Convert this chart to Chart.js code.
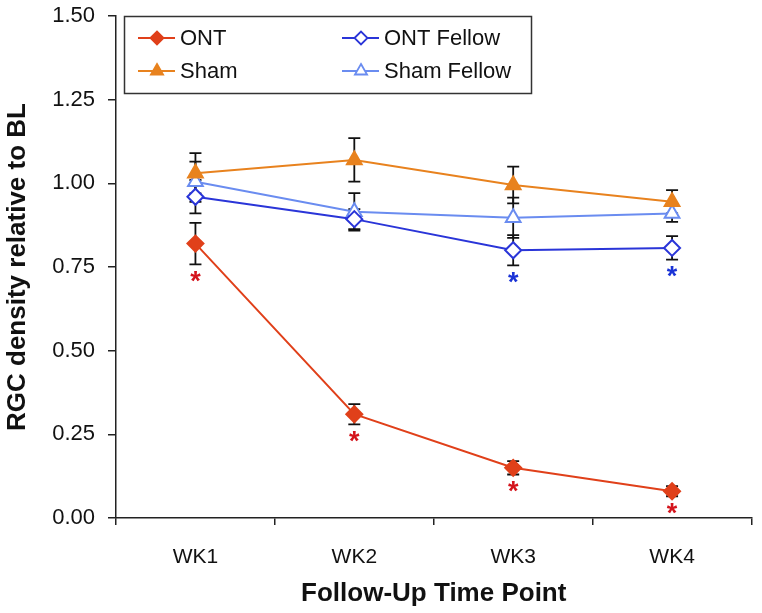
<!DOCTYPE html>
<html>
<head>
<meta charset="utf-8">
<script src="https://cdn.jsdelivr.net/npm/chart.js@4.4.0/dist/chart.umd.min.js"></script>
<style>
  html, body { margin: 0; padding: 0; background: #fff; }
  #wrap { width: 762px; height: 613px; position: relative; }
</style>
</head>
<body>
<div id="wrap"><canvas id="chart"></canvas></div>
<script>
// data
const weeks = ['WK1', 'WK2', 'WK3', 'WK4'];
const yTicks = [0, 0.25, 0.5, 0.75, 1.0, 1.25, 1.5];

const ont = [0.82, 0.31, 0.15, 0.08];
const ontErr = [0.062, 0.03, 0.02, 0.015];
const ontSig = [true, true, true, true];

const ontFellow = [0.96, 0.893, 0.80, 0.807];
const ontFellowErr = [0.05, 0.03, 0.045, 0.035];
const ontFellowSig = [false, false, true, true];

const sham = [1.03, 1.07, 0.995, 0.945];
const shamErr = [0.06, 0.065, 0.055, 0.035];

const shamFellow = [1.005, 0.915, 0.897, 0.91];
const shamFellowErr = [0.06, 0.056, 0.06, 0.025];

const FONT = '"Liberation Sans", Arial, sans-serif';

const series = [
  { label: 'ONT', data: ont, err: ontErr, sig: ontSig, sigColor: '#d4141c',
    color: '#e0401a', fill: '#e0401a', pointStyle: 'rectRot', radius: 8 },
  { label: 'Sham', data: sham, err: shamErr, sig: null,
    color: '#e8821e', fill: '#e8821e', pointStyle: 'triangle', radius: 8.5 },
  { label: 'ONT Fellow', data: ontFellow, err: ontFellowErr, sig: ontFellowSig, sigColor: '#1a33d6',
    color: '#2a35d8', fill: '#ffffff', pointStyle: 'rectRot', radius: 8 },
  { label: 'Sham Fellow', data: shamFellow, err: shamFellowErr, sig: null,
    color: '#6a8cf0', fill: '#ffffff', pointStyle: 'triangle', radius: 8.5 }
];

const errorBars = {
  id: 'errorBars',
  beforeDatasetsDraw(chart) {
    const ctx = chart.ctx;
    const x = chart.scales.x, y = chart.scales.y;
    ctx.save();
    ctx.strokeStyle = '#111';
    ctx.lineWidth = 1.8;
    series.forEach(s => {
      s.data.forEach((v, i) => {
        const px = x.getPixelForValue(i);
        const top = y.getPixelForValue(v + s.err[i]);
        const bot = y.getPixelForValue(v - s.err[i]);
        ctx.beginPath();
        ctx.moveTo(px, top); ctx.lineTo(px, bot);
        ctx.moveTo(px - 6, top); ctx.lineTo(px + 6, top);
        ctx.moveTo(px - 6, bot); ctx.lineTo(px + 6, bot);
        ctx.stroke();
      });
    });
    ctx.restore();
  },
  afterDatasetsDraw(chart) {
    const ctx = chart.ctx;
    const x = chart.scales.x, y = chart.scales.y;
    ctx.save();
    ctx.font = 'bold 27px ' + FONT;
    ctx.textAlign = 'center';
    ctx.textBaseline = 'middle';
    series.forEach(s => {
      if (!s.sig) return;
      ctx.fillStyle = s.sigColor;
      s.data.forEach((v, i) => {
        if (!s.sig[i]) return;
        const px = x.getPixelForValue(i);
        const bot = y.getPixelForValue(v - s.err[i]);
        ctx.fillText('*', px, bot + 18);
      });
    });
    ctx.restore();
  }
};

const legendBox = {
  id: 'legendBox',
  afterDraw(chart) {
    const ctx = chart.ctx;
    ctx.save();
    ctx.strokeStyle = '#333';
    ctx.lineWidth = 1.5;
    ctx.strokeRect(124.5, 16.5, 407, 77);
    ctx.font = '22px ' + FONT;
    ctx.textBaseline = 'middle';
    const cols = [138, 342];
    const rows = [38, 71];
    series.forEach((s, k) => {
      const lx = cols[Math.floor(k / 2)];
      const ly = rows[k % 2];
      ctx.strokeStyle = s.color;
      ctx.lineWidth = 1.8;
      ctx.beginPath();
      ctx.moveTo(lx, ly); ctx.lineTo(lx + 37, ly);
      ctx.stroke();
      ctx.fillStyle = s.fill;
      Chart.helpers.drawPoint(ctx, {
        pointStyle: s.pointStyle, radius: s.radius - 1.5, borderWidth: 1.8, rotation: 0
      }, lx + 19, ly);
      ctx.fillStyle = '#111';
      ctx.fillText(s.label, lx + 42, ly + 1);
    });
    ctx.restore();
  }
};

new Chart(document.getElementById('chart'), {
  type: 'line',
  data: {
    labels: weeks,
    datasets: series.map(s => ({
      label: s.label,
      data: s.data,
      borderColor: s.color,
      backgroundColor: s.fill,
      pointBackgroundColor: s.fill,
      pointBorderColor: s.color,
      pointStyle: s.pointStyle,
      pointRadius: s.radius,
      pointBorderWidth: 2,
      borderWidth: 2,
      tension: 0
    }))
  },
  options: {
    responsive: true,
    maintainAspectRatio: false,
    animation: false,
    layout: { padding: { top: 16, right: 9, left: 0, bottom: 0 } },
    plugins: { legend: { display: false }, tooltip: { enabled: false } },
    scales: {
      x: {
        offset: true,
        grid: { display: true, drawOnChartArea: false, offset: true, tickLength: 7, color: '#222', lineWidth: 1.5 },
        border: { color: '#222', width: 1.5 },
        ticks: { color: '#111', font: { family: FONT, size: 21 }, padding: 20 },
        title: { display: true, text: 'Follow-Up Time Point', color: '#111',
          font: { family: FONT, size: 26, weight: 'bold' }, padding: { top: 4, bottom: 4 } },
        afterFit: s => { s.height = 95; }
      },
      y: {
        min: 0, max: 1.5,
        afterBuildTicks: s => { s.ticks = yTicks.map(v => ({ value: v })); },
        grid: { display: true, drawOnChartArea: false, tickLength: 8, color: '#222', lineWidth: 1.5 },
        border: { color: '#222', width: 1.5 },
        ticks: { color: '#111', font: { family: FONT, size: 22 }, padding: 13,
          callback: v => v.toFixed(2) },
        title: { display: true, text: 'RGC density relative to BL', color: '#111',
          font: { family: FONT, size: 26, weight: 'bold' }, padding: { top: 2, bottom: 4 } },
        afterFit: s => { s.width = 116; s.paddingTop = 0; s.paddingBottom = 0; }
      }
    }
  },
  plugins: [errorBars, legendBox]
});
</script>
</body>
</html>
